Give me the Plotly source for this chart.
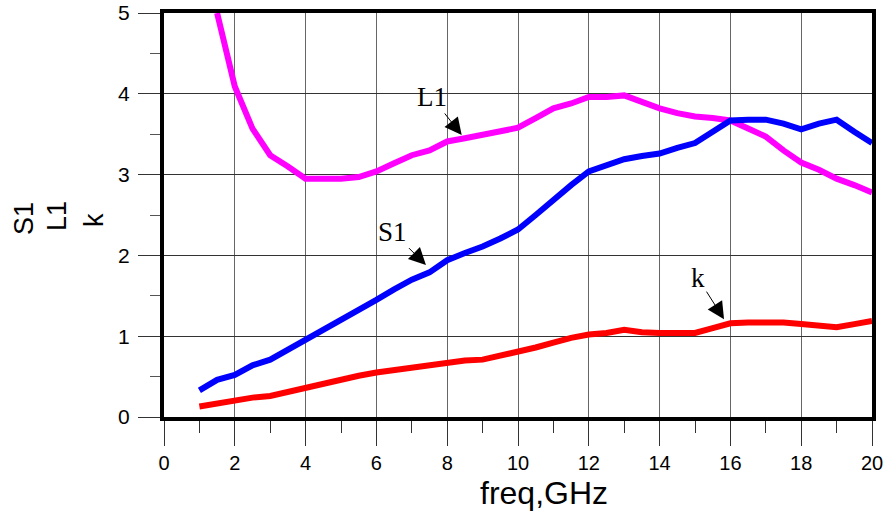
import plotly.graph_objects as go

freq = [1.0, 1.5, 2.0, 2.5, 3.0, 3.5, 4.0, 4.5, 5.0, 5.5, 6.0, 6.5, 7.0, 7.5, 8.0, 8.5, 9.0, 9.5,
        10.0, 10.5, 11.0, 11.5, 12.0, 12.5, 13.0, 13.5, 14.0, 14.5, 15.0, 15.5, 16.0, 16.5, 17.0,
        17.5, 18.0, 18.5, 19.0, 19.5, 20.0]

S1 = [0.33, 0.46, 0.52, 0.64, 0.71, 0.83, 0.95, 1.08, 1.21, 1.32, 1.45, 1.58, 1.70, 1.79, 1.94,
      2.03, 2.11, 2.21, 2.32, 2.50, 2.69, 2.87, 3.04, 3.12, 3.19, 3.23, 3.26, 3.33, 3.39, 3.53,
      3.67, 3.68, 3.68, 3.63, 3.56, 3.63, 3.68, 3.53, 3.39]

freq_L1 = freq[1:]
L1 = [5.0, 4.09, 3.57, 3.24, 3.10, 2.95, 2.95, 2.95, 2.97, 3.04, 3.14, 3.24, 3.30, 3.41, 3.45,
      3.49, 3.54, 3.58, 3.70, 3.82, 3.88, 3.96, 3.96, 3.98, 3.90, 3.82, 3.76, 3.72, 3.70, 3.67,
      3.57, 3.47, 3.30, 3.15, 3.06, 2.95, 2.87, 2.78]

k = [0.13, 0.17, 0.21, 0.24, 0.26, 0.31, 0.36, 0.42, 0.46, 0.51, 0.55, 0.58, 0.62, 0.64, 0.68,
     0.70, 0.71, 0.76, 0.80, 0.86, 0.92, 0.98, 1.02, 1.04, 1.08, 1.05, 1.04, 1.04, 1.04, 1.10,
     1.16, 1.17, 1.17, 1.17, 1.15, 1.13, 1.11, 1.15, 1.19]

x_ticks = [0, 2, 4, 6, 8, 10, 12, 14, 16, 18, 20]
y_ticks = [0, 1, 2, 3, 4, 5]

fig = go.Figure()
fig.add_trace(go.Scatter(x=freq_L1, y=L1, mode="lines", line=dict(color="#FF00FF", width=6), name="L1"))
fig.add_trace(go.Scatter(x=freq, y=S1, mode="lines", line=dict(color="#0000FF", width=6), name="S1"))
fig.add_trace(go.Scatter(x=freq, y=k, mode="lines", line=dict(color="#FF0000", width=6), name="k"))

tickfont = dict(family="Liberation Sans, Arial, sans-serif", size=20, color="black")
fig.update_layout(
    width=887, height=512,
    margin=dict(l=164, r=15, t=13, b=95),
    paper_bgcolor="white", plot_bgcolor="white",
    showlegend=False,
    xaxis=dict(range=[0, 20], tickvals=x_ticks, ticktext=[str(v) for v in x_ticks],
               automargin=False,
               showgrid=True, gridcolor="#666666", gridwidth=1,
               showline=True, linecolor="black", linewidth=4, mirror=True,
               ticks="outside", ticklen=25, tickcolor="#333333", tickwidth=1,
               ticklabelstandoff=0, tickfont=tickfont, zeroline=False,
               minor=dict(dtick=1, ticks="outside", ticklen=12, tickcolor="#333333", showgrid=False)),
    yaxis=dict(range=[0, 5], tickvals=y_ticks, ticktext=[str(v) for v in y_ticks],
               automargin=False,
               showgrid=True, gridcolor="#333333", gridwidth=1,
               showline=True, linecolor="black", linewidth=4, mirror=True,
               ticks="outside", ticklen=22, tickcolor="#333333", tickwidth=1,
               ticklabelstandoff=4, tickfont=dict(tickfont, size=21), zeroline=False,
               minor=dict(dtick=0.5, ticks="outside", ticklen=10, tickcolor="#555555", showgrid=False)),
)

serif = dict(family="Liberation Serif, Times New Roman, serif", size=27, color="black")
for label, tx, ty, ax, ay in [("L1", 8.41, 3.49, -30, -38), ("S1", 7.40, 1.88, -33, -33), ("k", 15.82, 1.21, -26, -41)]:
    fig.add_annotation(x=tx, y=ty, xref="x", yref="y", text=label, showarrow=True,
                       ax=ax, ay=ay, arrowhead=2, arrowsize=3.4, arrowwidth=1, arrowcolor="black",
                       font=serif)

sans = "Liberation Sans, Arial, sans-serif"
fig.add_annotation(x=544, y=493, xref="paper", yref="paper", text="freq,GHz", showarrow=False,
                   font=dict(family=sans, size=32, color="black"))
for label, px, py in [("S1", 24, 219), ("L1", 57, 216), ("k", 94, 220)]:
    fig.add_annotation(x=px, y=py, xref="paper", yref="paper", text=label, showarrow=False,
                       textangle=-90, font=dict(family=sans, size=27, color="black"))

# convert pixel positions for paper annotations
for a in fig.layout.annotations:
    if a.xref == "paper":
        a.x = (a.x - 164) / (872 - 164)
        a.y = (417 - a.y) / (417 - 13)
        a.xanchor = "center"
        a.yanchor = "middle"

fig.write_html("out.html")
